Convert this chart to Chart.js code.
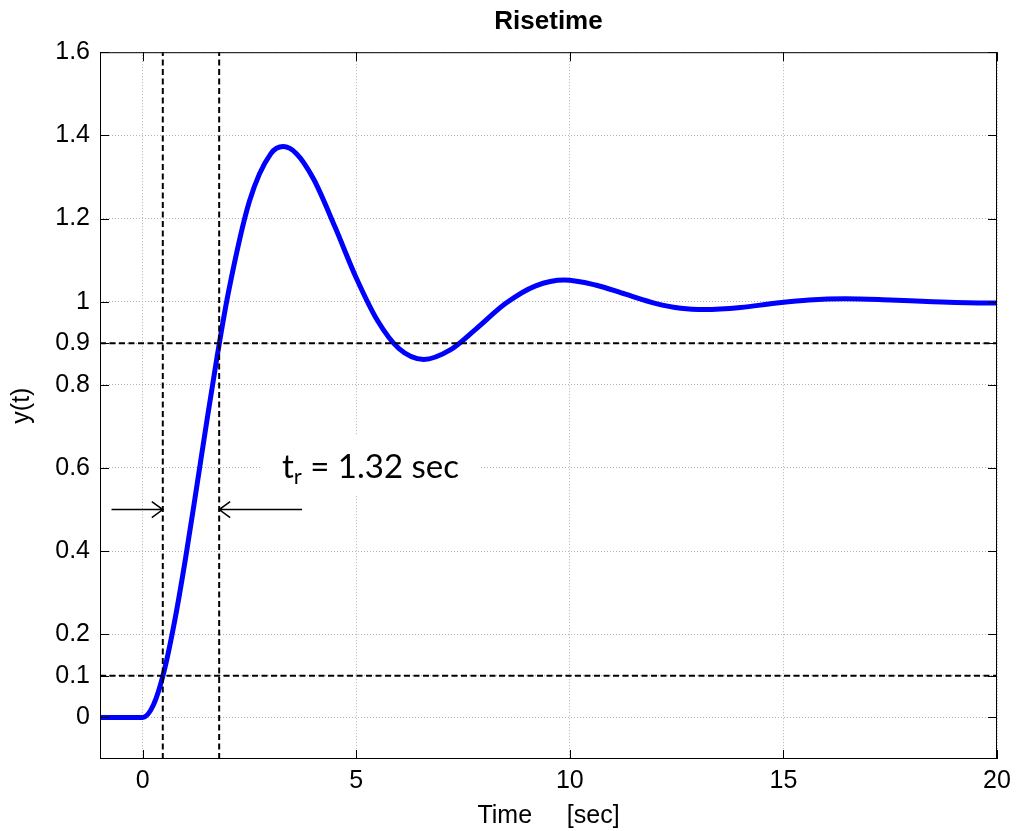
<!DOCTYPE html>
<html>
<head>
<meta charset="utf-8">
<title>Risetime</title>
<script src="https://cdn.jsdelivr.net/npm/chart.js@4.4.0/dist/chart.umd.min.js"></script>
<style>
  body { margin: 0; background: #fff; }
  #myChart { display: block; }
</style>
</head>
<body>
<canvas id="myChart" width="1022" height="831" style="width:1022px;height:831px"></canvas>
<script>
// step response
const timeSec = [-1, 0, 0.25, 0.5, 0.75, 1.0, 1.25, 1.5, 1.75, 2.0, 2.5, 3.0, 3.29, 3.6, 4.0, 4.5,
                 5.0, 5.5, 6.0, 6.58, 7.2, 7.8, 8.5, 9.2, 9.87, 10.6, 11.3, 12.0, 12.6, 13.16,
                 14.0, 14.8, 15.6, 16.45, 17.5, 18.5, 19.76, 20];
const yOut    = [0, 0, 0.03, 0.111, 0.233, 0.381, 0.545, 0.712, 0.873, 1.019, 1.242, 1.356, 1.373, 1.356, 1.295, 1.18,
                 1.057, 0.954, 0.887, 0.861, 0.884, 0.934, 0.996, 1.038, 1.052, 1.04, 1.018, 0.996, 0.984, 0.981,
                 0.986, 0.996, 1.004, 1.007, 1.004, 1.0, 0.997, 0.997];

const xTicks = [0, 5, 10, 15, 20];
const yTicks = [0, 0.1, 0.2, 0.4, 0.6, 0.8, 0.9, 1, 1.2, 1.4, 1.6];
const xRange = [-1, 20];
const yRange = [-0.1, 1.6];

// 10% / 90% levels and the times the curve crosses them
const levels = [0.1, 0.9];
const crossTimes = [0.47, 1.79];
const riseText = " = 1.32 sec";
const labelPos = [3.26, 0.577];   // where the t_r text sits (data units)
const arrowY = 0.5;
const arrowEnds = [-0.73, 3.73];  // tails of the two arrows

var FONT = "'Liberation Sans', Arial, sans-serif";
var LABEL_FONT = "Lato, 'Open Sans', sans-serif";

var curve = [];
for (var i in timeSec) {
    curve.push({ x: timeSec[i], y: yOut[i] });
}

var datasets = [];
// dashed guide lines (drawn on top of the curve)
levels.forEach(function (lv) {
    datasets.push({
        data: [{ x: xRange[0], y: lv }, { x: xRange[1], y: lv }],
        borderColor: '#000', borderWidth: 2, borderDash: [6, 3.5],
        pointRadius: 0, order: 1
    });
});
crossTimes.forEach(function (tc) {
    datasets.push({
        data: [{ x: tc, y: yRange[0] }, { x: tc, y: yRange[1] }],
        borderColor: '#000', borderWidth: 2, borderDash: [6, 3.5],
        pointRadius: 0, order: 1
    });
});
datasets.push({
    data: curve,
    borderColor: '#0000ff', borderWidth: 5,
    cubicInterpolationMode: 'monotone',
    pointRadius: 0, order: 2
});

function arrow(ctx, x0, x1, y) {
    var dir = x1 > x0 ? 1 : -1;
    ctx.beginPath();
    ctx.moveTo(x0, y);
    ctx.lineTo(x1, y);
    ctx.moveTo(x1 - dir * 11, y - 8);
    ctx.lineTo(x1, y);
    ctx.lineTo(x1 - dir * 11, y + 8);
    ctx.stroke();
}

var extras = {
    id: 'extras',
    beforeDatasetsDraw: function (chart) {
        // white patch behind the label, it hides the grid there
        var ctx = chart.ctx, x = chart.scales.x, y = chart.scales.y;
        var lx = x.getPixelForValue(labelPos[0]);
        var ly = y.getPixelForValue(labelPos[1]);
        ctx.save();
        ctx.fillStyle = '#fff';
        ctx.fillRect(lx - 20, ly - 42, 218, 60);
        ctx.restore();
    },
    afterDraw: function (chart) {
        var ctx = chart.ctx, a = chart.chartArea;
        var x = chart.scales.x, y = chart.scales.y;
        ctx.save();

        // box round the axes
        ctx.strokeStyle = '#000';
        ctx.lineWidth = 1;
        ctx.strokeRect(a.left + 0.5, a.top + 0.5, a.right - a.left - 1, a.bottom - a.top - 1);

        // ticks pointing inwards, all four sides
        ctx.beginPath();
        xTicks.forEach(function (v) {
            var px = Math.round(x.getPixelForValue(v)) + 0.5;
            ctx.moveTo(px, a.bottom); ctx.lineTo(px, a.bottom - 9);
            ctx.moveTo(px, a.top); ctx.lineTo(px, a.top + 9);
        });
        yTicks.forEach(function (v) {
            var py = Math.round(y.getPixelForValue(v)) + 0.5;
            ctx.moveTo(a.left, py); ctx.lineTo(a.left + 9, py);
            ctx.moveTo(a.right, py); ctx.lineTo(a.right - 9, py);
        });
        ctx.stroke();

        // rise time arrows
        ctx.lineWidth = 1.5;
        var ay = y.getPixelForValue(arrowY);
        arrow(ctx, x.getPixelForValue(arrowEnds[0]), x.getPixelForValue(crossTimes[0]), ay);
        arrow(ctx, x.getPixelForValue(arrowEnds[1]), x.getPixelForValue(crossTimes[1]), ay);

        // t_r = ... label
        var lx = x.getPixelForValue(labelPos[0]);
        var ly = y.getPixelForValue(labelPos[1]);
        ctx.fillStyle = '#000';
        ctx.textBaseline = 'alphabetic';
        ctx.font = '33px ' + LABEL_FONT;
        ctx.fillText('t', lx, ly);
        var w = ctx.measureText('t').width;
        ctx.font = '22px ' + LABEL_FONT;
        ctx.fillText('r', lx + w, ly + 6);
        w += ctx.measureText('r').width;
        ctx.font = '33px ' + LABEL_FONT;
        ctx.fillText(riseText, lx + w, ly);
        ctx.restore();
    }
};

var ctx = document.getElementById('myChart').getContext('2d');
var chart = new Chart(ctx, {
    type: 'line',
    data: { datasets: datasets },
    plugins: [extras],
    options: {
        responsive: false,
        animation: false,
        devicePixelRatio: 1,
        layout: { padding: { left: 0, right: 25, top: 0, bottom: 0 } },
        plugins: {
            legend: { display: false },
            tooltip: { enabled: false },
            title: {
                display: true,
                text: 'Risetime',
                fullSize: false,
                color: '#000',
                font: { family: FONT, size: 26, weight: 'bold' },
                padding: { top: 6, bottom: 15 }
            }
        },
        scales: {
            x: {
                type: 'linear',
                min: xRange[0], max: xRange[1],
                afterBuildTicks: function (s) { s.ticks = xTicks.map(function (v) { return { value: v }; }); },
                afterFit: function (s) { s.height = 72; },
                ticks: {
                    color: '#000', padding: 7,
                    font: { family: FONT, size: 25 },
                    callback: function (v) { return String(v); }
                },
                grid: { color: '#b4b4b4', lineWidth: 1, drawTicks: false },
                border: { display: false, dash: [1, 2] },
                title: {
                    display: true, text: 'Time     [sec]', color: '#000',
                    font: { family: FONT, size: 25 },
                    padding: { top: 0, bottom: 0 }
                }
            },
            y: {
                type: 'linear',
                min: yRange[0], max: yRange[1],
                afterBuildTicks: function (s) { s.ticks = yTicks.map(function (v) { return { value: v }; }); },
                afterFit: function (s) { s.width = 100; },
                ticks: {
                    color: '#000', padding: 10,
                    font: { family: FONT, size: 25 },
                    callback: function (v) { return String(v); }
                },
                grid: { color: '#b4b4b4', lineWidth: 1, drawTicks: false },
                border: { display: false, dash: [1, 2] },
                title: {
                    display: true, text: 'y(t)', color: '#000',
                    font: { family: FONT, size: 25 },
                    padding: { top: 7, bottom: 0 }
                }
            }
        }
    }
});
</script>
</body>
</html>
